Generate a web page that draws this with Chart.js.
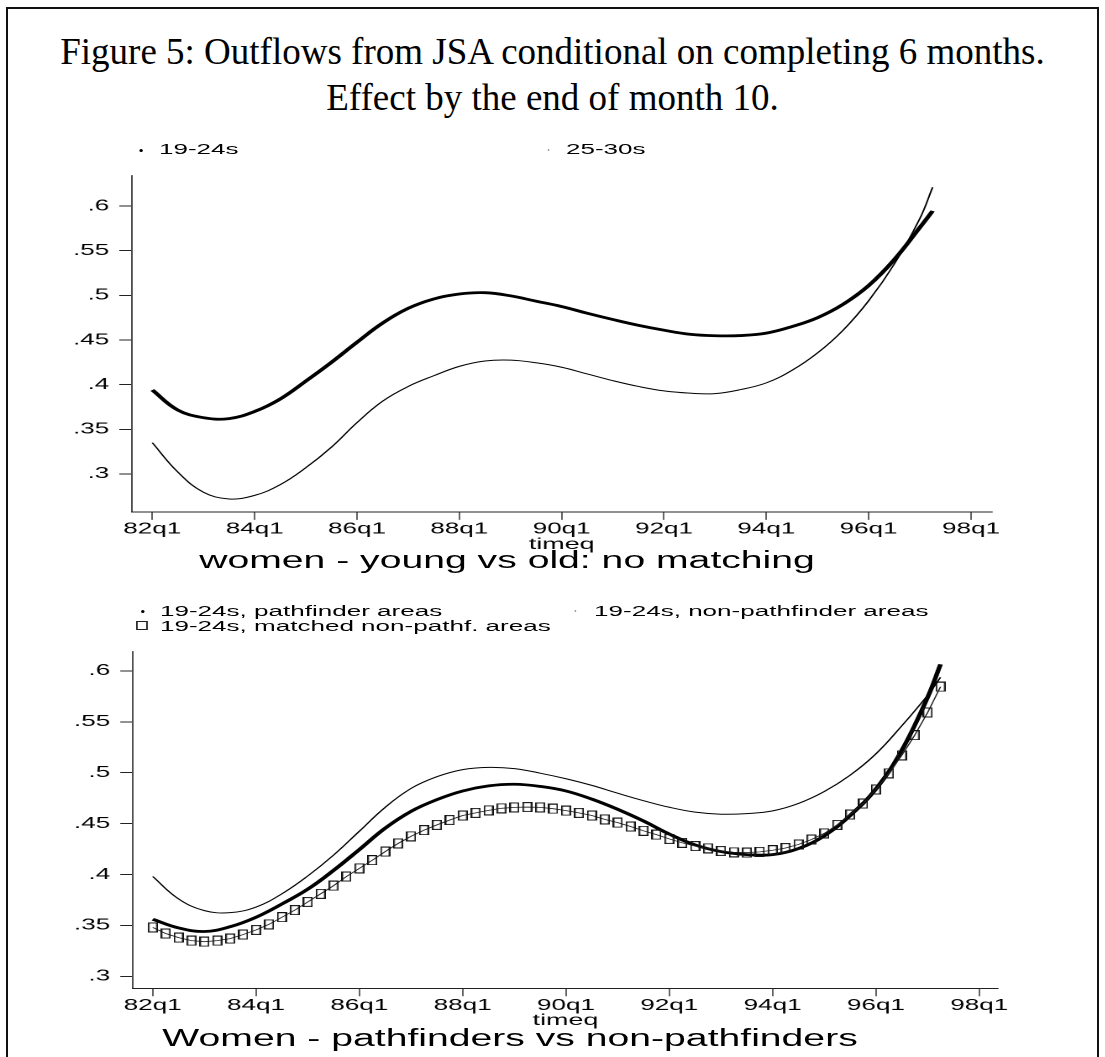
<!DOCTYPE html>
<html lang="en">
<head>
<meta charset="UTF-8">
<title>Figure 5 - Outflows from JSA</title>
<script src="https://cdn.jsdelivr.net/npm/chart.js@4"></script>
<style>
  html, body { margin: 0; padding: 0; background: #fff; overflow: hidden; }
  body { width: 1105px; height: 1057px; position: relative; font-family: "Liberation Sans", Arial, sans-serif; color: #000; }
  .frame { position: absolute; left: 6px; top: 7px; width: 1089px; height: 1100px; border: 2px solid #111; }
  .title { position: absolute; left: 0; width: 1105px; text-align: center; font-family: "Liberation Serif", "Times New Roman", serif; font-size: 37px; line-height: 37px; white-space: nowrap; }
  /* the stata graph is wider than its fonts, so the whole panel is stretched sideways */
  .stretch { position: absolute; left: 0; top: 0; width: 658px; height: 1057px; transform: scaleX(1.68); transform-origin: 0 0; }
  .stretch canvas { position: absolute; left: 0; }
  .lg { position: absolute; font-size: 15.5px; line-height: 15.5px; white-space: nowrap; }
  .sub { position: absolute; width: 600px; text-align: center; font-size: 23.3px; line-height: 23.3px; white-space: nowrap; }
  .dot { position: absolute; border-radius: 50%; }
  .sq { position: absolute; border: 1px solid #222; box-sizing: border-box; }
</style>
</head>
<body>
<div class="frame"></div>
<div class="title" style="top:33px;">Figure 5: Outflows from JSA conditional on completing 6 months.</div>
<div class="title" style="top:79px;">Effect by the end of month 10.</div>

<div class="stretch">
  <!-- top panel -->
  <div class="dot" style="left:82.9px; top:148.5px; width:1.8px; height:3px; background:#000;"></div>
  <div class="lg" style="left:94.6px; top:141px;">19-24s</div>
  <div class="dot" style="left:326px; top:149px; width:0.9px; height:1.5px; background:#999;"></div>
  <div class="lg" style="left:336.9px; top:141px;">25-30s</div>
  <canvas id="topChart" width="658" height="394" style="top:160px; width:658px; height:394px;"></canvas>
  <div class="sub" style="left:1.8px; top:548.6px;">women - young vs old: no matching</div>

  <!-- bottom panel -->
  <div class="dot" style="left:84.2px; top:609.5px; width:1.8px; height:3px; background:#000;"></div>
  <div class="lg" style="left:95.2px; top:602.6px;">19-24s, pathfinder areas</div>
  <div class="dot" style="left:342.2px; top:610px; width:0.9px; height:1.5px; background:#999;"></div>
  <div class="lg" style="left:353.6px; top:602.6px;">19-24s, non-pathfinder areas</div>
  <div class="sq" style="left:81.3px; top:621px; width:6.4px; height:9.3px;"></div>
  <div class="lg" style="left:95.2px; top:617.6px;">19-24s, matched non-pathf. areas</div>
  <canvas id="botChart" width="658" height="395" style="top:636px; width:658px; height:395px;"></canvas>
  <div class="sub" style="left:3.6px; top:1027px;">Women - pathfinders vs non-pathfinders</div>
</div>

<script>
// quarters counted from 82q1 = 0
const xTickQ = [0, 8, 16, 24, 32, 40, 48, 56, 64];
const xTickLabels = ['82q1', '84q1', '86q1', '88q1', '90q1', '92q1', '94q1', '96q1', '98q1'];
const yTickVals = [0.3, 0.35, 0.4, 0.45, 0.5, 0.55, 0.6];
const yTickLabels = ['.3', '.35', '.4', '.45', '.5', '.55', '.6'];

// top panel: women, young vs old
const topQ = [0, 2, 4, 6, 8, 10, 12, 14, 16, 18, 20, 22, 24, 26, 28, 30, 32, 34, 36, 38, 40, 42, 44, 46, 48, 50, 52, 54, 56, 58, 60, 61];
const top1924 = [0.394, 0.3715, 0.363, 0.362, 0.370, 0.384, 0.404, 0.425, 0.4475, 0.469, 0.4855, 0.496, 0.5015, 0.503, 0.4995, 0.4935,
                 0.4875, 0.480, 0.473, 0.4665, 0.461, 0.4565, 0.4548, 0.455, 0.4577, 0.465, 0.475, 0.490, 0.511, 0.540, 0.576, 0.5946];
const top2530 = [0.335, 0.302, 0.2795, 0.272, 0.276, 0.288, 0.307, 0.330, 0.3575, 0.3815, 0.398, 0.410, 0.4205, 0.4265, 0.4275, 0.4245,
                 0.4195, 0.412, 0.4045, 0.398, 0.393, 0.3905, 0.390, 0.3945, 0.402, 0.416, 0.4355, 0.461, 0.494, 0.535, 0.586, 0.6211];

// bottom panel: pathfinder vs non-pathfinder areas
const botQ = [0, 2, 4, 6, 8, 10, 12, 14, 16, 18, 20, 22, 24, 26, 28, 30, 32, 34, 36, 38, 40, 42, 44, 46, 48, 50, 52, 54, 56, 58, 60, 61];
const botPath = [0.356, 0.3475, 0.344, 0.3487, 0.358, 0.371, 0.3855, 0.404, 0.4245, 0.4455, 0.462, 0.4735, 0.482, 0.487, 0.4886, 0.4865,
                 0.482, 0.474, 0.464, 0.4525, 0.4397, 0.429, 0.4225, 0.4195, 0.4195, 0.4255, 0.438, 0.458, 0.484, 0.522, 0.574, 0.6064];
const botNonPath = [0.398, 0.376, 0.3645, 0.3625, 0.368, 0.381, 0.3985, 0.419, 0.4425, 0.466, 0.4845, 0.496, 0.503, 0.5052, 0.504, 0.4995,
                    0.494, 0.4875, 0.4798, 0.4725, 0.466, 0.4612, 0.4592, 0.4598, 0.4625, 0.4698, 0.4815, 0.4975, 0.5185, 0.546, 0.576, 0.5936];
const matchQ = [0, 1, 2, 3, 4, 5, 6, 7, 8, 9, 10, 11, 12, 13, 14, 15, 16, 17, 18, 19, 20, 21, 22, 23, 24, 25, 26, 27, 28, 29, 30,
                31, 32, 33, 34, 35, 36, 37, 38, 39, 40, 41, 42, 43, 44, 45, 46, 47, 48, 49, 50, 51, 52, 53, 54, 55, 56, 57, 58, 59, 60, 61];
const botMatched = [0.348, 0.342, 0.338, 0.335, 0.334, 0.335, 0.337, 0.341, 0.3455, 0.351, 0.358, 0.365, 0.373, 0.381, 0.389, 0.398,
                    0.406, 0.414, 0.4225, 0.4305, 0.4375, 0.4435, 0.4487, 0.4535, 0.4579, 0.4605, 0.463, 0.465, 0.4659, 0.4662, 0.4659,
                    0.4646, 0.4627, 0.4605, 0.4579, 0.4541, 0.4509, 0.4471, 0.4429, 0.4391, 0.4349, 0.4311, 0.4279, 0.4257, 0.4231, 0.4218,
                    0.4215, 0.4222, 0.4238, 0.426, 0.4295, 0.4343, 0.4404, 0.4487, 0.4589, 0.4697, 0.4835, 0.4994, 0.517, 0.5368, 0.5591, 0.5844];

Chart.defaults.font.family = '"Liberation Sans", Arial, sans-serif';
Chart.defaults.color = '#000';

function xy(qs, vals) {
  return qs.map((q, i) => ({ x: q, y: vals[i] }));
}

// hollow square, drawn narrow because the panel gets stretched
function squareMarker() {
  const c = document.createElement('canvas');
  c.width = 6;
  c.height = 10;
  const g = c.getContext('2d');
  g.strokeStyle = '#111';
  g.lineWidth = 1;
  g.strokeRect(0.5, 0.5, 5, 9);
  return c;
}

function line(data, width) {
  return { data: data, borderColor: '#000', borderWidth: width, pointRadius: 0,
           tension: 0.4, fill: false };
}

function axes(xMin, xMax, yMin, yMax, yWidth) {
  return {
    x: {
      type: 'linear', min: xMin, max: xMax,
      afterBuildTicks: s => { s.ticks = xTickQ.map(v => ({ value: v })); },
      afterFit: s => { s.height = 42.1; },
      grid: { drawOnChartArea: false, tickLength: 8, color: '#222', lineWidth: 0.7 },
      border: { color: '#222', width: 1 },
      ticks: { padding: 0, maxRotation: 0, autoSkip: false, color: '#000', font: { size: 15.5 },
               callback: (v, i) => xTickLabels[i] },
      title: { display: true, text: 'timeq', color: '#000', font: { size: 16 }, padding: 0 }
    },
    y: {
      type: 'linear', min: yMin, max: yMax,
      afterBuildTicks: s => { s.ticks = yTickVals.map(v => ({ value: v })); },
      afterFit: s => { s.width = yWidth; },
      grid: { drawOnChartArea: false, tickLength: 7.4, color: '#222', lineWidth: 1 },
      border: { color: '#222', width: 0.8 },
      ticks: { padding: 6, color: '#000', font: { size: 15.5 }, callback: (v, i) => yTickLabels[i] }
    }
  };
}

function baseOptions(pad, scales) {
  return {
    responsive: false,
    animation: false,
    devicePixelRatio: 2,
    events: [],
    layout: { padding: pad },
    plugins: { legend: { display: false }, title: { display: false }, tooltip: { enabled: false } },
    scales: scales
  };
}

new Chart(document.getElementById('topChart'), {
  type: 'line',
  data: {
    datasets: [
      line(xy(topQ, top2530), 1),
      line(xy(topQ, top1924), 2.8)
    ]
  },
  options: baseOptions({ top: 6, left: 0, right: 67.7, bottom: 0 },
                       axes(-1.61, 65.62, 0.2575, 0.6345, 78.4))
});

new Chart(document.getElementById('botChart'), {
  type: 'line',
  data: {
    datasets: [
      line(xy(botQ, botNonPath), 1),
      {
        data: xy(matchQ, botMatched), borderColor: '#222', borderWidth: 0.8,
        pointStyle: squareMarker(), pointRadius: 5, fill: false, tension: 0
      },
      line(xy(botQ, botPath), 2.8)
    ]
  },
  options: baseOptions({ top: 6.7, left: 0, right: 63.8, bottom: 0.6 },
                       axes(-1.55, 65.47, 0.2882, 0.6192, 79.0))
});
</script>
</body>
</html>
